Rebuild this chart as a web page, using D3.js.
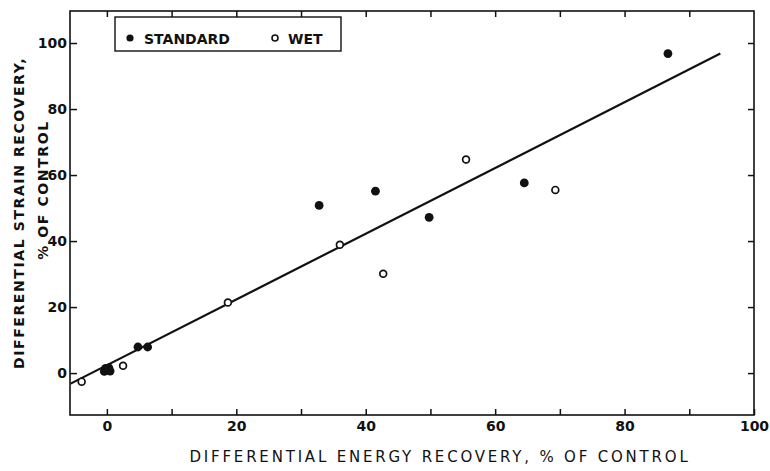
<!DOCTYPE html>
<html><head><meta charset="utf-8">
<script src="https://cdn.jsdelivr.net/npm/d3@7"></script>
<style>
body{margin:0;background:#fff;}
svg{display:block;}
text{font-family:"DejaVu Sans","Liberation Sans",sans-serif;fill:#111;}
</style></head>
<body><svg id="c" width="770" height="471"></svg>
<script>
// Data
const standardX = [-0.4, 0.3, 0.5, -0.2, 4.8, 6.3, 32.8, 41.5, 49.8, 64.5, 86.7];
const standardY = [0.5, 1.6, 0.6, 1.4, 7.9, 7.9, 50.8, 55.1, 47.2, 57.6, 96.8];
const wetX = [-3.9, 2.5, 18.7, 36.0, 42.7, 55.5, 69.3];
const wetY = [-2.6, 2.2, 21.4, 38.9, 30.1, 64.7, 55.5];
const fitX = [-5.6, 94.8];
const fitY = [-3.2, 96.8];
const xTicks = [0, 10, 20, 30, 40, 50, 60, 70, 80, 90, 100];
const xLabels = [0, 20, 40, 60, 80, 100];
const yTicks = [0, 20, 40, 60, 80, 100];
const legendNames = ["STANDARD", "WET"];
const xTitle = "DIFFERENTIAL ENERGY RECOVERY, % OF CONTROL";
const yTitle1 = "DIFFERENTIAL STRAIN RECOVERY,";
const yTitle2 = "% OF CONTROL";

const svg = d3.select("#c");
const L = 70, R = 754, T = 11, B = 415;
const x = d3.scaleLinear().domain([-5.7, 100]).range([L, R]);
const y = d3.scaleLinear().domain([-12.7, 109.7]).range([B, T]);

// frame
svg.append("rect").attr("x", L).attr("y", T).attr("width", R - L).attr("height", B - T)
  .attr("fill", "none").attr("stroke", "#111").attr("stroke-width", 1.6);

// bottom axis
const gb = svg.append("g").attr("transform", `translate(0,${B})`)
  .call(d3.axisBottom(x).tickValues(xTicks).tickSize(-6).tickPadding(6)
    .tickFormat(d => xLabels.includes(d) ? d : ""));
// top axis
const gt = svg.append("g").attr("transform", `translate(0,${T})`)
  .call(d3.axisTop(x).tickValues(xTicks.slice(0, -1)).tickSize(-6).tickFormat(""));
// left axis
const gl = svg.append("g").attr("transform", `translate(${L},0)`)
  .call(d3.axisLeft(y).tickValues(yTicks).tickSize(-7).tickPadding(3));
// right axis
const gr = svg.append("g").attr("transform", `translate(${R},0)`)
  .call(d3.axisRight(y).tickValues(yTicks).tickSize(-6).tickFormat(""));
[gb, gt, gl, gr].forEach(g => {
  g.select(".domain").remove();
  g.selectAll(".tick line").attr("stroke", "#111").attr("stroke-width", 1.5);
  g.selectAll(".tick text").attr("font-size", 14).attr("font-weight", "bold").attr("fill", "#111");
});

// fit line
svg.append("line")
  .attr("x1", x(fitX[0])).attr("y1", y(fitY[0]))
  .attr("x2", x(fitX[1])).attr("y2", y(fitY[1]))
  .attr("stroke", "#111").attr("stroke-width", 2.2);

// points
svg.append("g").selectAll("circle").data(standardX.map((v, i) => [v, standardY[i]]))
  .join("circle").attr("cx", d => x(d[0])).attr("cy", d => y(d[1])).attr("r", 4.4)
  .attr("fill", "#111");
svg.append("g").selectAll("circle").data(wetX.map((v, i) => [v, wetY[i]]))
  .join("circle").attr("cx", d => x(d[0])).attr("cy", d => y(d[1])).attr("r", 3.4)
  .attr("fill", "#fff").attr("stroke", "#111").attr("stroke-width", 1.7);

// legend
const lg = svg.append("g");
lg.append("rect").attr("x", 115).attr("y", 17).attr("width", 226).attr("height", 34)
  .attr("fill", "#fff").attr("stroke", "#111").attr("stroke-width", 1.4);
lg.append("circle").attr("cx", 130).attr("cy", 38).attr("r", 3.6).attr("fill", "#111");
lg.append("text").attr("x", 144).attr("y", 43.5).attr("font-size", 14).attr("font-weight", "bold")
  .text(legendNames[0]);
lg.append("circle").attr("cx", 275).attr("cy", 38).attr("r", 3).attr("fill", "#fff")
  .attr("stroke", "#111").attr("stroke-width", 1.6);
lg.append("text").attr("x", 288).attr("y", 43.5).attr("font-size", 14).attr("font-weight", "bold")
  .text(legendNames[1]);

// axis titles
svg.append("text").attr("x", 440).attr("y", 462).attr("text-anchor", "middle")
  .attr("font-size", 15).attr("letter-spacing", 2.8).attr("font-weight", 500).text(xTitle);
svg.append("text").attr("transform", "translate(24,213) rotate(-90)").attr("text-anchor", "middle")
  .attr("font-size", 14).attr("font-weight", "bold").attr("letter-spacing", 1.6).text(yTitle1);
svg.append("text").attr("transform", "translate(48,190) rotate(-90)").attr("text-anchor", "middle")
  .attr("font-size", 14).attr("font-weight", "bold").attr("letter-spacing", 1.6).text(yTitle2);
</script></body></html>
